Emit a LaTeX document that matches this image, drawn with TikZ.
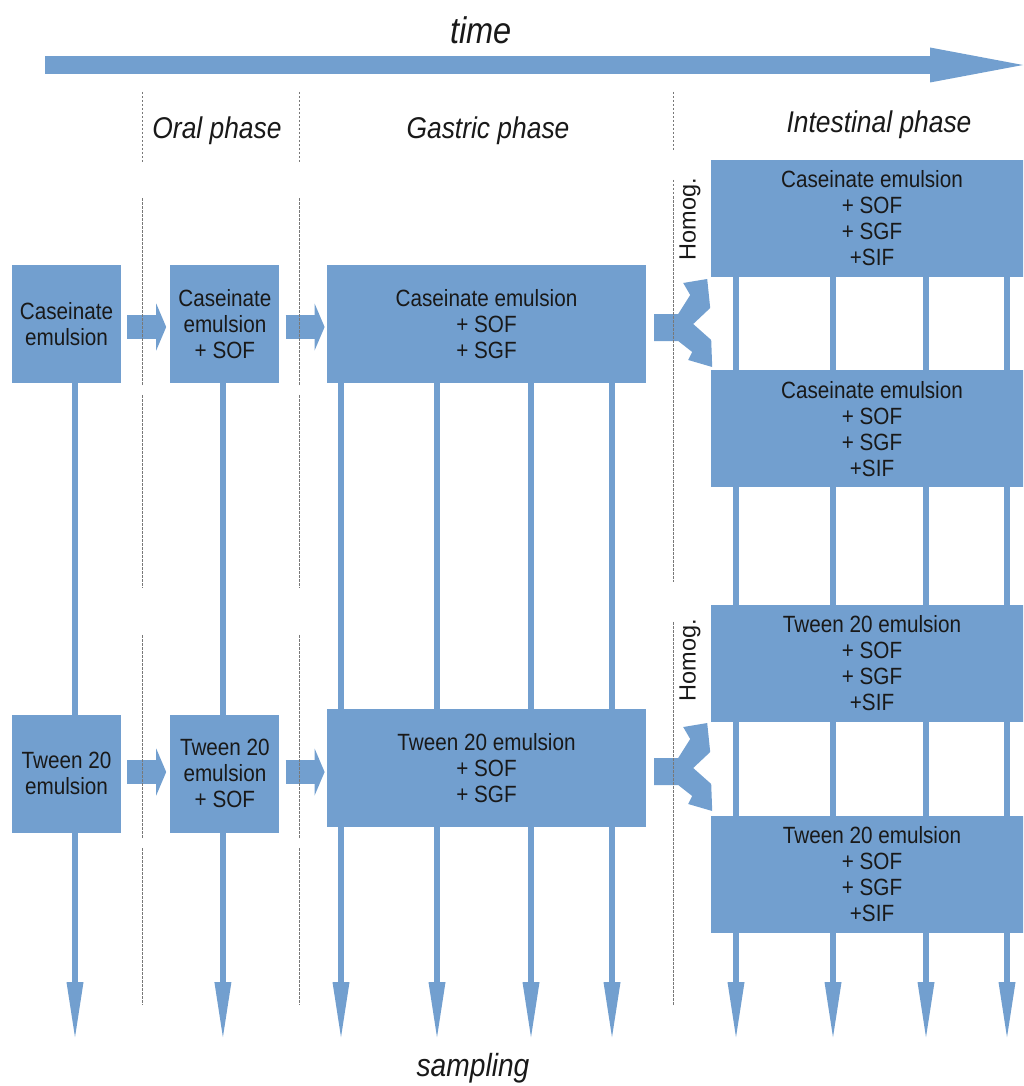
\documentclass[tikz,border=0pt]{standalone}
\usepackage{fontspec}
\setmainfont{Liberation Sans}
\newfontfamily\narrowfont[FakeStretch=0.88]{Liberation Sans}
\usepackage{tikz}
\usetikzlibrary{positioning, arrows.meta, backgrounds}
\definecolor{DGBlue}{HTML}{729FCF}
\definecolor{DGGray}{RGB}{120,120,120}
\definecolor{DGText}{RGB}{25,25,25}

\tikzset{
  stagebox/.style={fill=DGBlue, draw=none, text=DGText, align=center,
                   inner sep=0pt, font=\narrowfont\fontsize{23.5}{26}\selectfont},
  smallbox/.style={stagebox, minimum width=109pt, minimum height=118pt},
  widebox/.style={stagebox, minimum width=319pt, minimum height=118pt},
  gutbox/.style={stagebox, minimum width=322pt, minimum height=117pt},
  phaselabel/.style={text=DGText, font=\narrowfont\itshape\fontsize{30}{36}\selectfont},
  homoglabel/.style={text=DGText, rotate=90, font=\fontsize{23.5}{26}\selectfont},
  timearrow/.style={DGBlue, line width=18pt,
                    -{Triangle[length=93pt, width=35pt, line width=0pt]}},
  blockarrow/.style={DGBlue, line width=24pt,
                     -{Triangle[length=10pt, width=47pt, line width=0pt]}},
  samplearrow/.style={DGBlue, line width=6pt,
                      -{Triangle[length=55pt, width=17pt, line width=0pt]}},
  phaseline/.style={DGGray, line width=0.8pt, dash pattern=on 2.5pt off 1.5pt},
  splitarrow/.pic={
    \fill[DGBlue] (8,-10) -- (32,-10) -- (44,-29) -- (37,-41) -- (61,-45)
      -- (64,-16) -- (47,0) -- (65,16) -- (66,43) -- (42,36) -- (46,28)
      -- (32,17) -- (8,17) -- cycle;
  }
}

\begin{document}
\begin{tikzpicture}[x=1pt, y=-1pt]
  \useasboundingbox (0,0) rectangle (1023,1086);
  \clip (0,0) rectangle (1023,1086);

  % time axis and phase titles
  \coordinate (timeStart) at (45,65);
  \coordinate (timeEnd) at (1023,65);
  \draw[timearrow] (timeStart) -- (timeEnd);
  \node[phaselabel, font=\narrowfont\itshape\fontsize{37}{40}\selectfont]
        (timeLabel) at (481,30) {time};
  \node[phaselabel] (oralLabel) at (217,131) {Oral phase};
  \node[phaselabel] (gastricLabel) at (488,131) {Gastric phase};
  \node[phaselabel] (intestinalLabel) at (879,125) {Intestinal phase};
  \node[phaselabel, font=\narrowfont\itshape\fontsize{32}{36}\selectfont]
        (samplingLabel) at (473,1068) {sampling};

  % caseinate row
  \node[smallbox] (caseIn) at (66.5,324) {Caseinate\\emulsion};
  \node[smallbox, right=49pt of caseIn] (caseOral) {Caseinate\\emulsion\\+ SOF};
  \node[widebox] (caseGas) at (486.5,324) {Caseinate emulsion\\+ SOF\\+ SGF};
  \node[gutbox] (gutCase1) at (872,218.5) {Caseinate emulsion\\+ SOF\\+ SGF\\+SIF};
  \node[gutbox, below=93pt of gutCase1] (gutCase2) {Caseinate emulsion\\+ SOF\\+ SGF\\+SIF};

  % tween row
  \node[smallbox] (tweenIn) at (66.5,773.5) {Tween 20\\emulsion};
  \node[smallbox, right=49pt of tweenIn] (tweenOral) {Tween 20\\emulsion\\+ SOF};
  \node[widebox] (tweenGas) at (486.5,768) {Tween 20 emulsion\\+ SOF\\+ SGF};
  \node[gutbox] (gutTween1) at (872,663) {Tween 20 emulsion\\+ SOF\\+ SGF\\+SIF};
  \node[gutbox, below=94pt of gutTween1] (gutTween2) {Tween 20 emulsion\\+ SOF\\+ SGF\\+SIF};

  \node[homoglabel] (homogCase) at (690,219) {Homog.};
  \node[homoglabel] (homogTween) at (690,660) {Homog.};

  % transfers between phases
  \draw[blockarrow] ([xshift=6pt, yshift=-3pt]caseIn.east) -- ++(39,0);
  \draw[blockarrow] ([xshift=6pt, yshift=-3pt]caseOral.east) -- ++(39,0);
  \draw[blockarrow] ([xshift=6pt, yshift=1.5pt]tweenIn.east) -- ++(39,0);
  \draw[blockarrow] ([xshift=6pt, yshift=1.5pt]tweenOral.east) -- ++(39,0);
  \pic at (caseGas.east) {splitarrow};
  \pic at (tweenGas.east) {splitarrow};

  % sampling lines behind the boxes
  \begin{scope}[on background layer]
    \draw[samplearrow] ([xshift=8.5pt]caseIn.south) -- ++(0,654);
    \draw[samplearrow] ([xshift=-2pt]caseOral.south) -- ++(0,654);
    \foreach \dx in {-145.5, -49.5, 44.5, 125.5}
      \draw[samplearrow] ([xshift=\dx pt]caseGas.south) -- ++(0,654);
    \foreach \dx in {-136, -39, 54, 135}
      \draw[samplearrow] ([xshift=\dx pt]gutCase1.south) -- ++(0,760);
  \end{scope}

  % phase borders
  \foreach \x in {142, 299}
    \draw[phaseline] (\x,92) -- (\x,162) (\x,198) -- (\x,385) (\x,395) -- (\x,588)
                     (\x,635) -- (\x,838) (\x,848) -- (\x,1005);
  \draw[phaseline] (673,92) -- (673,152) (673,180) -- (673,582)
                   (673,622) -- (673,1005);
\end{tikzpicture}
\end{document}
